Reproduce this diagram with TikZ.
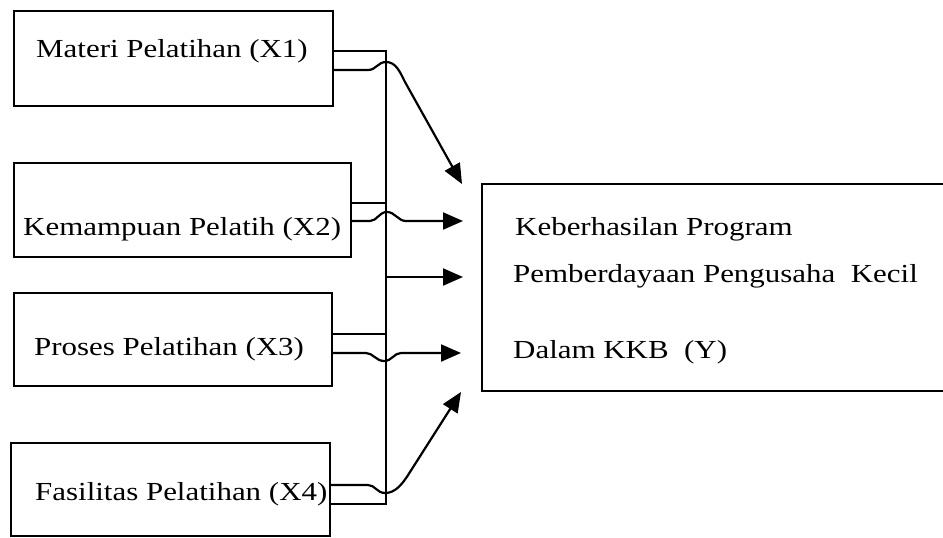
\documentclass[tikz,border=0pt]{standalone}
\usepackage{fontspec}
\setmainfont{Liberation Serif}[FakeStretch=1.19]
\usetikzlibrary{arrows.meta}
\begin{document}
\begin{tikzpicture}[x=1pt,y=-1pt,
  box/.style={draw,line width=2.2pt,rectangle,inner sep=0pt},
  txt/.style={inner sep=0pt,anchor=base west,font=\fontsize{26}{28}\selectfont},
  conn/.style={line width=2.2pt},
  arr/.style={line width=2.2pt,-{Triangle[length=20pt,width=17pt]}}]
\useasboundingbox (0,0) rectangle (943,538);
% boxes
\node[box,minimum width=319pt,minimum height=95pt] (x1) at (173.5,58.5) {};
\node[box,minimum width=337pt,minimum height=94pt] (x2) at (182.5,210) {};
\node[box,minimum width=318pt,minimum height=93pt] (x3) at (173,339.5) {};
\node[box,minimum width=319pt,minimum height=93pt] (x4) at (170.5,489.5) {};
\node[box,minimum width=480pt,minimum height=207pt] (y) at (722,287.5) {};
% texts
\node[txt] (x1t) at (36,57) {Materi Pelatihan (X1)};
\node[txt] (x2t) at (23,235) {Kemampuan Pelatih (X2)};
\node[txt] (x3t) at (34,355) {Proses Pelatihan (X3)};
\node[txt] (x4t) at (35,500) {Fasilitas Pelatihan (X4)};
\node[txt] (y1) at (515,235) {Keberhasilan Program};
\node[txt] (y2) at (513,282) {Pemberdayaan Pengusaha\ \ Kecil};
\node[txt] (y3) at (513,358) {Dalam KKB\ \ (Y)};
% bus
\coordinate (bT) at (386,51);
\coordinate (bB) at (386,504);
\draw[conn] (x1.east |- bT) -- (bT) -- (bB) -- (x4.east |- bB);
\draw[conn] (x2.east |- 0,203) -- (bT |- 0,203);
\draw[conn] (x3.east |- 0,334) -- (bT |- 0,334);
% arrows
\coordinate (t1) at (462,184);
\coordinate (t2) at (463,221);
\coordinate (t3) at (463,277);
\coordinate (t4) at (461,353);
\coordinate (t5) at (461,392);
\draw[arr] (x1.east |- 0,70) -- (368,70) .. controls (376,70) and (378,62) .. (386,62)
  .. controls (396,62) and (400,72) .. (405,82) -- (t1);
\draw[arr] (x2.east |- 0,221) -- (370,221) .. controls (377,221) and (379,212) .. (387,212)
  .. controls (395,212) and (398,221) .. (406,221) -- (t2);
\draw[arr] (bT |- t3) -- (t3);
\draw[arr] (x3.east |- 0,353) -- (366,353) .. controls (373,353) and (376,361) .. (384,361)
  .. controls (392,361) and (394,353) .. (401,353) -- (t4);
\draw[arr] (x4.east |- 0,485) -- (368,485) .. controls (375,485) and (377,493) .. (385,493)
  .. controls (395,493) and (402,485) .. (410,472) -- (t5);
\end{tikzpicture}
\end{document}
